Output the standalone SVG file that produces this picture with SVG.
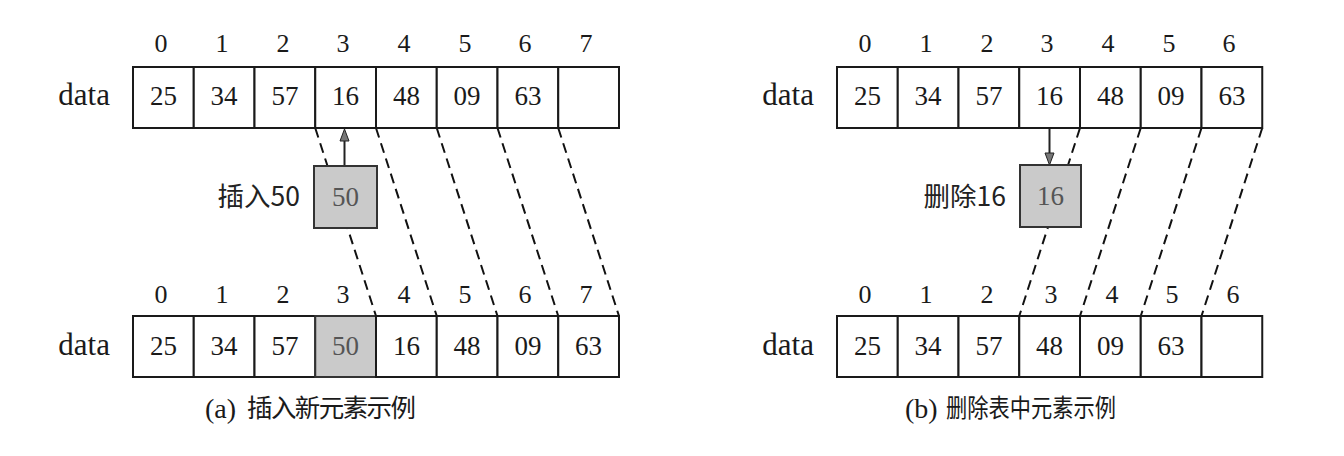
<svg xmlns="http://www.w3.org/2000/svg" width="1344" height="456" viewBox="0 0 1344 456">
<style>
.cell{fill:#fff;stroke:#1a1a1a;stroke-width:2}
.gcell{fill:#cacaca;stroke:#333;stroke-width:2}
.num{font-family:'Liberation Serif','DejaVu Serif',serif;font-size:27px;fill:#1a1a1a;text-anchor:middle}
.gnum{font-family:'Liberation Serif','DejaVu Serif',serif;font-size:27px;fill:#555;text-anchor:middle}
.idx{font-family:'Liberation Serif','DejaVu Serif',serif;font-size:26px;fill:#1a1a1a;text-anchor:middle}
.lbl{font-family:'Liberation Serif','DejaVu Serif',serif;font-size:31px;fill:#1a1a1a;text-anchor:end}
.cjk{font-family:'Noto Sans CJK SC',sans-serif;font-size:26.5px;fill:#222;text-anchor:end}
.cap{font-family:'Liberation Serif','Noto Sans CJK SC',serif;font-size:28px;fill:#1a1a1a}
.capc{font-family:'Noto Sans CJK SC',sans-serif;font-size:25.5px;fill:#1a1a1a}
.dash{stroke:#111;stroke-width:2;stroke-dasharray:10 6;fill:none}
.arr{stroke:#222;stroke-width:2;fill:none}
.head{fill:#777;stroke:#222;stroke-width:1}
</style>

<g id="connectors">
<line class="dash" x1="315.25" y1="128" x2="376" y2="316"/>
<line class="dash" x1="376" y1="128" x2="436.75" y2="316"/>
<line class="dash" x1="436.75" y1="128" x2="497.5" y2="316"/>
<line class="dash" x1="497.5" y1="128" x2="558.25" y2="316"/>
<line class="dash" x1="558.25" y1="128" x2="619" y2="316"/>
<line class="arr" x1="344.5" y1="166" x2="344.5" y2="139"/>
<polygon class="head" points="344.5,129 340,141 349,141"/>
<line class="dash" x1="1080" y1="128" x2="1019.25" y2="316"/>
<line class="dash" x1="1140.75" y1="128" x2="1080" y2="316"/>
<line class="dash" x1="1201.5" y1="128" x2="1140.75" y2="316"/>
<line class="dash" x1="1262.25" y1="128" x2="1201.5" y2="316"/>
<line class="arr" x1="1049.5" y1="128" x2="1049.5" y2="155"/>
<polygon class="head" points="1049.5,165 1045,153 1054,153"/>
</g>

<g id="left-top-array">
<text class="lbl" x="110" y="105">data</text>
<text class="idx" x="161" y="52">0</text><text class="idx" x="222" y="52">1</text><text class="idx" x="283" y="52">2</text><text class="idx" x="343" y="52">3</text><text class="idx" x="404" y="52">4</text><text class="idx" x="465" y="52">5</text><text class="idx" x="525" y="52">6</text><text class="idx" x="586" y="52">7</text>
<rect class="cell" x="133" y="67" width="60.75" height="61"/><rect class="cell" x="193.75" y="67" width="60.75" height="61"/><rect class="cell" x="254.5" y="67" width="60.75" height="61"/><rect class="cell" x="315.25" y="67" width="60.75" height="61"/><rect class="cell" x="376" y="67" width="60.75" height="61"/><rect class="cell" x="436.75" y="67" width="60.75" height="61"/><rect class="cell" x="497.5" y="67" width="60.75" height="61"/><rect class="cell" x="558.25" y="67" width="60.75" height="61"/>
<text class="num" x="163.4" y="105">25</text><text class="num" x="224.1" y="105">34</text><text class="num" x="284.9" y="105">57</text><text class="num" x="345.6" y="105">16</text><text class="num" x="406.4" y="105">48</text><text class="num" x="467.1" y="105">09</text><text class="num" x="527.9" y="105">63</text>
</g>

<g id="insert-node">
<text class="cjk" x="300" y="206">插入50</text>
<rect class="gcell" x="314" y="166" width="63" height="62"/>
<text class="gnum" x="345.5" y="206">50</text>
</g>

<g id="left-bottom-array">
<text class="lbl" x="110" y="355">data</text>
<text class="idx" x="161" y="303">0</text><text class="idx" x="222" y="303">1</text><text class="idx" x="283" y="303">2</text><text class="idx" x="343" y="303">3</text><text class="idx" x="404" y="303">4</text><text class="idx" x="465" y="303">5</text><text class="idx" x="525" y="303">6</text><text class="idx" x="586" y="303">7</text>
<rect class="cell" x="133" y="316" width="60.75" height="61"/><rect class="cell" x="193.75" y="316" width="60.75" height="61"/><rect class="cell" x="254.5" y="316" width="60.75" height="61"/><rect class="gcell" x="315.25" y="316" width="60.75" height="61"/><rect class="cell" x="376" y="316" width="60.75" height="61"/><rect class="cell" x="436.75" y="316" width="60.75" height="61"/><rect class="cell" x="497.5" y="316" width="60.75" height="61"/><rect class="cell" x="558.25" y="316" width="60.75" height="61"/>
<text class="num" x="163.4" y="355">25</text><text class="num" x="224.1" y="355">34</text><text class="num" x="284.9" y="355">57</text><text class="gnum" x="345.6" y="355">50</text><text class="num" x="406.4" y="355">16</text><text class="num" x="467.1" y="355">48</text><text class="num" x="527.9" y="355">09</text><text class="num" x="588.6" y="355">63</text>
</g>

<g id="caption-a">
<text class="cap" x="205" y="418">(a)</text><text class="capc" x="247" y="417" textLength="169" lengthAdjust="spacing">插入新元素示例</text>
</g>

<g id="right-top-array">
<text class="lbl" x="814" y="105">data</text>
<text class="idx" x="865" y="52">0</text><text class="idx" x="926" y="52">1</text><text class="idx" x="987" y="52">2</text><text class="idx" x="1047" y="52">3</text><text class="idx" x="1108" y="52">4</text><text class="idx" x="1169" y="52">5</text><text class="idx" x="1229" y="52">6</text>
<rect class="cell" x="837" y="67" width="60.75" height="61"/><rect class="cell" x="897.75" y="67" width="60.75" height="61"/><rect class="cell" x="958.5" y="67" width="60.75" height="61"/><rect class="cell" x="1019.25" y="67" width="60.75" height="61"/><rect class="cell" x="1080" y="67" width="60.75" height="61"/><rect class="cell" x="1140.75" y="67" width="60.75" height="61"/><rect class="cell" x="1201.5" y="67" width="60.75" height="61"/>
<text class="num" x="867.4" y="105">25</text><text class="num" x="928.1" y="105">34</text><text class="num" x="988.9" y="105">57</text><text class="num" x="1049.6" y="105">16</text><text class="num" x="1110.4" y="105">48</text><text class="num" x="1171.1" y="105">09</text><text class="num" x="1231.9" y="105">63</text>
</g>

<g id="delete-node">
<text class="cjk" x="1006" y="206">删除16</text>
<rect class="gcell" x="1020" y="165" width="61" height="62"/>
<text class="gnum" x="1050.5" y="205">16</text>
</g>

<g id="right-bottom-array">
<text class="lbl" x="814" y="355">data</text>
<text class="idx" x="865" y="303">0</text><text class="idx" x="926" y="303">1</text><text class="idx" x="987" y="303">2</text><text class="idx" x="1051" y="303">3</text><text class="idx" x="1112" y="303">4</text><text class="idx" x="1172" y="303">5</text><text class="idx" x="1233" y="303">6</text>
<rect class="cell" x="837" y="316" width="60.75" height="61"/><rect class="cell" x="897.75" y="316" width="60.75" height="61"/><rect class="cell" x="958.5" y="316" width="60.75" height="61"/><rect class="cell" x="1019.25" y="316" width="60.75" height="61"/><rect class="cell" x="1080" y="316" width="60.75" height="61"/><rect class="cell" x="1140.75" y="316" width="60.75" height="61"/><rect class="cell" x="1201.5" y="316" width="60.75" height="61"/>
<text class="num" x="867.4" y="355">25</text><text class="num" x="928.1" y="355">34</text><text class="num" x="988.9" y="355">57</text><text class="num" x="1049.6" y="355">48</text><text class="num" x="1110.4" y="355">09</text><text class="num" x="1171.1" y="355">63</text>
</g>

<g id="caption-b">
<text class="cap" x="905" y="418">(b)</text><text class="capc" x="946" y="417" textLength="170" lengthAdjust="spacingAndGlyphs">删除表中元素示例</text>
</g>
</svg>
